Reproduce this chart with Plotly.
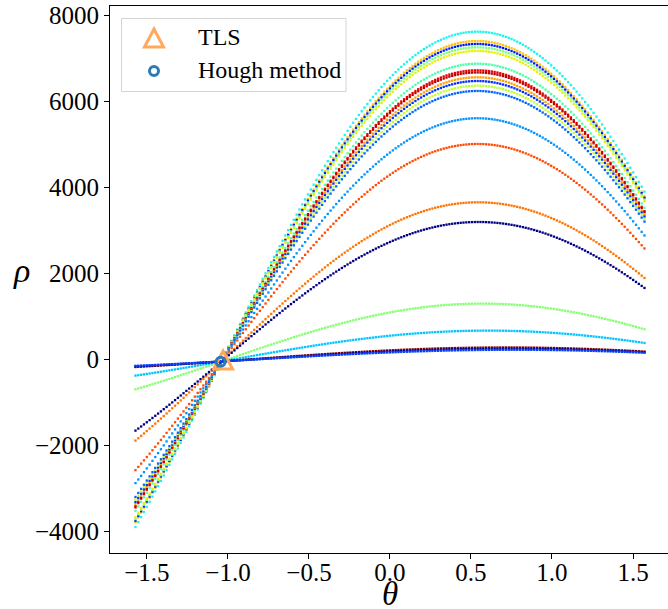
import numpy as np
import plotly.graph_objects as go

# Sampled Hough angles (degrees), one marker per degree
theta_deg = list(range(-90, 91))

# Image points (x, y) whose Hough sinusoids rho = x cos(theta) + y sin(theta) are drawn
point_x = [6545, 6358, 6299, 6232, 6158, 5903, 5770, 5727, 5630, 5556, 5462, 5356,
           4809, 4293, 3123, 2728, 1090, 548, 208, 182, 160]
point_y = [3900, 3790, 3755, 3716, 3673, 3523, 3445, 3420, 3363, 3319, 3264, 3202,
           2880, 2578, 1891, 1659, 698, 380, 180, 165, 152]
point_colors = ["#19f5ee", "#ffc400", "#0018ff", "#7dff7a", "#e8f000", "#4dffaa",
                "#e80000", "#c00000", "#ffa000", "#0030ff", "#c1ff36", "#0064ff",
                "#0094ff", "#ff4a00", "#ff7400", "#000084", "#86ff70", "#00c4ff",
                "#840000", "#000090", "#0040ff"]

# Estimated line parameters
tls_theta, tls_rho = -1.03, -15
hough_theta, hough_rho = -1.045, -56

x_ticks = [-1.5, -1.0, -0.5, 0.0, 0.5, 1.0, 1.5]
y_ticks = [-4000, -2000, 0, 2000, 4000, 6000, 8000]

W, H = 668, 609
ML, MR, MT, MB = 110, 0, 6, 56
PW, PH = W - ML - MR, H - MT - MB


def px(xp):
    return (xp - ML) / PW


def py(yp):
    return (H - MB - yp) / PH


theta = np.deg2rad(np.array(theta_deg, dtype=float))
fig = go.Figure()
for xp, yp, c in zip(point_x, point_y, point_colors):
    rho = xp * np.cos(theta) + yp * np.sin(theta)
    fig.add_trace(go.Scatter(x=theta, y=rho, mode="markers",
                             marker=dict(symbol="square", size=2.3, color=c,
                                         line=dict(width=0)),
                             showlegend=False, hoverinfo="skip", cliponaxis=False))

tri_col = "#ffa95e"
circ_col = "#2c7bb6"
tri_path = "M 0 9 L -9.5 -9 L 9.5 -9 Z"
shapes = [
    # TLS marker on the plot
    dict(type="path", xref="x", yref="y", xsizemode="pixel", ysizemode="pixel",
         xanchor=tls_theta, yanchor=tls_rho, path=tri_path,
         line=dict(color=tri_col, width=3), layer="above"),
    # Hough marker on the plot
    dict(type="circle", xref="x", yref="y", xsizemode="pixel", ysizemode="pixel",
         xanchor=hough_theta, yanchor=hough_rho, x0=-4.5, x1=4.5, y0=-4.5, y1=4.5,
         line=dict(color=circ_col, width=3), layer="above"),
    # legend box
    dict(type="rect", xref="paper", yref="paper", x0=px(121.5), x1=px(346),
         y0=py(91.5), y1=py(18.5), line=dict(color="#d4d4d4", width=1),
         fillcolor="rgba(255,255,255,0.8)", layer="above"),
    dict(type="path", xref="paper", yref="paper", xsizemode="pixel", ysizemode="pixel",
         xanchor=px(154), yanchor=py(38), path=tri_path,
         line=dict(color=tri_col, width=3), layer="above"),
    dict(type="circle", xref="paper", yref="paper", xsizemode="pixel", ysizemode="pixel",
         xanchor=px(154), yanchor=py(71), x0=-4.5, x1=4.5, y0=-4.5, y1=4.5,
         line=dict(color=circ_col, width=3), layer="above"),
]

font_serif = "Liberation Serif"
annotations = [
    dict(text="TLS", xref="paper", yref="paper", x=px(196), y=py(37), xanchor="left",
         yanchor="middle", showarrow=False, font=dict(family=font_serif, size=24, color="black")),
    dict(text="Hough method", xref="paper", yref="paper", x=px(196), y=py(70),
         xanchor="left", yanchor="middle", showarrow=False,
         font=dict(family=font_serif, size=24, color="black")),
    dict(text="<i>θ</i>", xref="paper", yref="paper", x=px(390), y=py(594),
         xanchor="center", yanchor="middle", showarrow=False,
         font=dict(family=font_serif, size=33, color="black")),
    dict(text="<i>ρ</i>", xref="paper", yref="paper", x=px(21), y=py(270),
         xanchor="center", yanchor="middle", showarrow=False,
         font=dict(family=font_serif, size=34, color="black")),
]

fig.update_layout(
    width=W, height=H, margin=dict(l=ML, r=MR, t=MT, b=MB, autoexpand=False),
    plot_bgcolor="white", paper_bgcolor="white",
    shapes=shapes, annotations=annotations,
    font=dict(family=font_serif, size=24, color="black"),
    xaxis=dict(range=[-1.728, 1.716], tickvals=x_ticks, automargin=False,
               ticktext=[f"{v:.1f}".replace("-", "\u2212") for v in x_ticks],
               showgrid=False, zeroline=False, showline=True, linecolor="black",
               linewidth=1, mirror=True, ticks="outside", ticklen=5, tickwidth=1,
               tickcolor="black", ticklabelstandoff=-8,
               tickfont=dict(family=font_serif, size=25)),
    yaxis=dict(range=[-4505, 8216], tickvals=y_ticks, automargin=False,
               ticktext=[str(v).replace("-", "\u2212") for v in y_ticks],
               showgrid=False, zeroline=False, showline=True, linecolor="black",
               linewidth=1, ticks="outside", ticklen=5, tickwidth=1,
               tickcolor="black", tickfont=dict(family=font_serif, size=25)),
)

fig.write_html("out.html", config={"displayModeBar": False},
               post_script="document.body.style.margin='0px';document.body.style.overflow='hidden';")
